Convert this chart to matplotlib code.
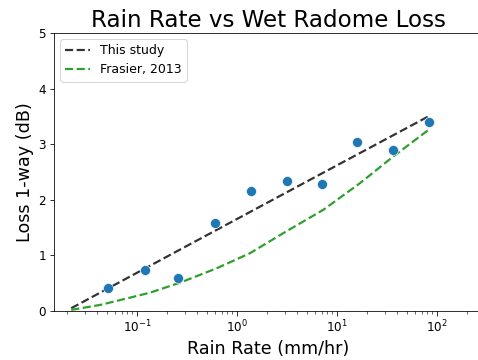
import matplotlib
matplotlib.use('Agg')
import matplotlib.pyplot as plt
import numpy as np

# observed points
rain_rate = [0.051, 0.12, 0.26, 0.60, 1.38, 3.14, 7.1, 16.0, 36.6, 84.0]
loss = [0.41, 0.74, 0.59, 1.59, 2.16, 2.33, 2.28, 3.04, 2.90, 3.40]

# "This study" fit line
study_rate = [0.022, 0.3, 5.0, 84.0]
study_loss = [0.05, 1.15, 2.33, 3.51]

# Frasier, 2013 curve
frasier_rate = [0.022, 0.043, 0.085, 0.135, 0.27, 0.63, 1.35, 2.9, 7.3, 17.0, 36.6, 84.0]
frasier_loss = [0.02, 0.11, 0.24, 0.33, 0.51, 0.77, 1.04, 1.40, 1.82, 2.30, 2.78, 3.27]

fig = plt.figure(figsize=(478 / 72, 360 / 72), dpi=72)
ax = fig.add_axes([54 / 478, 49 / 360, 428 / 478, 278 / 360])

ax.plot(study_rate, study_loss, '--', color='k', alpha=0.8, lw=2.2, label='This study')
ax.plot(frasier_rate, frasier_loss, '--', color='tab:green', lw=2.2, label='Frasier, 2013')
ax.scatter(rain_rate, loss, s=100, color='tab:blue', edgecolor='white', linewidth=0.6, zorder=3)

ax.set_xscale('log')
ax.set_xlim(10 ** -1.83, 10 ** 2.45)
ax.set_ylim(0, 5)
ax.set_yticks([0, 1, 2, 3, 4, 5])
ax.tick_params(labelsize=12, length=4.5)
ax.tick_params(which='minor', length=2.5)

ax.set_title('Rain Rate vs Wet Radome Loss', fontsize=23)
ax.set_xlabel('Rain Rate (mm/hr)', fontsize=17.5)
ax.set_ylabel('Loss 1-way (dB)', fontsize=17.5)
ax.legend(loc='upper left', fontsize=12.5)

fig.savefig('out.png', dpi=72)
